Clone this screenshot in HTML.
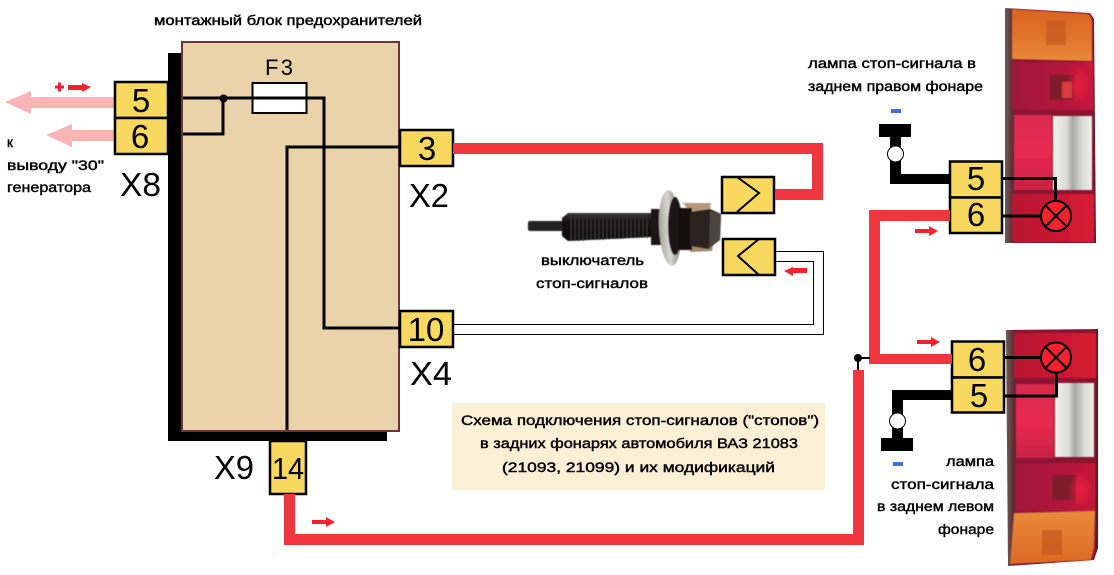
<!DOCTYPE html>
<html><head><meta charset="utf-8"><style>
html,body{margin:0;padding:0;background:#fff}
svg{display:block}
.t{font-family:"Liberation Sans",sans-serif;font-size:13.5px;fill:#000;stroke:#000;stroke-width:.4px}
.n{font-family:"Liberation Sans",sans-serif;font-size:33px;fill:#000;text-anchor:middle}
.x{font-family:"Liberation Sans",sans-serif;font-size:33px;fill:#000}
</style></head><body>
<svg width="1114" height="575" viewBox="0 0 1114 575" xmlns="http://www.w3.org/2000/svg">
<defs>
<linearGradient id="or" x1="0" y1="0" x2="0" y2="1"><stop offset="0" stop-color="#d9641f"/><stop offset=".6" stop-color="#e2772f"/><stop offset="1" stop-color="#e88a3a"/></linearGradient>
<linearGradient id="or2" x1="0" y1="0" x2="0" y2="1"><stop offset="0" stop-color="#ea8a3c"/><stop offset="1" stop-color="#dc6a25"/></linearGradient>
<linearGradient id="edge" x1="0" y1="0" x2="1" y2="0"><stop offset="0" stop-color="#6d5a58"/><stop offset=".09" stop-color="#5d2a30"/><stop offset=".12" stop-color="#8c1430"/><stop offset=".97" stop-color="#8c1430"/><stop offset="1" stop-color="#3a2020"/></linearGradient>
<linearGradient id="r1" x1="0" y1="0" x2="1" y2="0"><stop offset="0" stop-color="#a0153a"/><stop offset=".75" stop-color="#b8163a"/><stop offset="1" stop-color="#c81a3a"/></linearGradient>
<linearGradient id="r2" x1="0" y1="0" x2="0" y2="1"><stop offset="0" stop-color="#d92a4e"/><stop offset=".5" stop-color="#e82a50"/><stop offset="1" stop-color="#c92245"/></linearGradient>
<linearGradient id="r3" x1="0" y1="0" x2="1" y2="0"><stop offset="0" stop-color="#b81430"/><stop offset="1" stop-color="#d81c34"/></linearGradient>
<linearGradient id="wh" x1="0" y1="0" x2="1" y2="0"><stop offset="0" stop-color="#f0f0ec"/><stop offset=".35" stop-color="#dedeD8"/><stop offset=".5" stop-color="#a8a8a2"/><stop offset=".75" stop-color="#dcdcd6"/><stop offset="1" stop-color="#eeeeea"/></linearGradient>
<linearGradient id="th" x1="0" y1="0" x2="0" y2="1"><stop offset="0" stop-color="#3a3436"/><stop offset=".3" stop-color="#151113"/><stop offset="1" stop-color="#0d0a0b"/></linearGradient>
<linearGradient id="ring" x1="0" y1="0" x2="1" y2="0"><stop offset="0" stop-color="#a5a59d"/><stop offset=".45" stop-color="#d8d8d0"/><stop offset="1" stop-color="#77776f"/></linearGradient>
<radialGradient id="glow"><stop offset="0" stop-color="#f02040" stop-opacity=".9"/><stop offset="1" stop-color="#f02040" stop-opacity="0"/></radialGradient>
<filter id="b"><feGaussianBlur stdDeviation="1.2"/></filter>
<filter id="s"><feGaussianBlur stdDeviation=".5"/></filter>
</defs>

<!-- tail light top -->
<path d="M1005 8 L1090 13 L1094 19 L1096 243 L1005 243 Z" fill="url(#edge)"/>
<g filter="url(#s)">
<path d="M1012 9 L1089 14 L1092 20 L1092 61 L1012 59 Z" fill="url(#or)"/>
<rect x="1046" y="20" width="20" height="25" fill="#c8581f" opacity=".7"/>
<rect x="1012" y="62" width="81" height="48" fill="url(#r1)"/>
<rect x="1050" y="75" width="24" height="25" fill="#7e1a2a"/>
<ellipse cx="1078" cy="85" rx="12" ry="20" fill="url(#glow)"/>
<rect x="1062" y="82" width="10" height="16" fill="#d83a3a"/>
<rect x="1014" y="115" width="38" height="75" fill="url(#r2)"/>
<rect x="1053" y="116" width="39" height="74" fill="url(#wh)"/>
<rect x="1012" y="194" width="82" height="48" fill="url(#r3)"/>
</g>

<!-- tail light bottom -->
<path d="M1006 330 L1098 329 L1098 548 L1094 560 L1008 566 Z" fill="url(#edge)"/>
<g filter="url(#s)">
<rect x="1014" y="333" width="82" height="45" fill="url(#r3)"/>
<rect x="1016" y="384" width="38" height="74" fill="url(#r2)"/>
<rect x="1055" y="383" width="39" height="74" fill="url(#wh)"/>
<rect x="1015" y="463" width="80" height="48" fill="url(#r1)"/>
<rect x="1052" y="475" width="24" height="25" fill="#7e1a2a"/>
<ellipse cx="1080" cy="490" rx="12" ry="20" fill="url(#glow)"/>
<path d="M1014 513 L1095 511 L1094 548 L1091 560 L1010 564 Z" fill="url(#or2)"/>
<rect x="1042" y="530" width="20" height="25" fill="#c8581f" opacity=".7"/>
</g>

<!-- block -->
<rect x="168" y="53" width="219" height="388" fill="#000"/>
<rect x="182" y="42" width="217" height="389" fill="#ead3a8" stroke="#6b3535" stroke-width="2"/>

<!-- pink arrows -->
<path d="M5 102 L31 91 V97 H115 V108 H31 V114 Z" fill="#fbb4b4"/>
<path d="M46 135 L72 124 V130 H115 V141 H72 V147 Z" fill="#fbb4b4"/>
<rect x="55" y="85.500" width="9" height="3" fill="#f5222d"/><rect x="58" y="82.500" width="3" height="9" fill="#f5222d"/>
<path d="M68 85 H82 V83 L91 87 L82 92 V90 H68 Z" fill="#f5222d"/>

<!-- internal wiring -->
<g fill="none" stroke="#000" stroke-width="3">
<path d="M183 98 H324 V328 H400"/>
<path d="M223 98 V134 H183"/>
<path d="M400 147 H287 V430"/>
</g>
<circle cx="223.500" cy="98.500" r="4" fill="#000"/>
<rect x="252.500" y="83" width="54" height="30" fill="#fff" stroke="#000" stroke-width="2"/>
<path d="M252 98 H307" stroke="#000" stroke-width="3"/>
<text class="x" x="265" y="75" style="font-size:22px" textLength="28">F3</text>

<!-- connectors -->
<g fill="#f8d85f" stroke="#000" stroke-width="2.500">
<rect x="115" y="82" width="53" height="36"/>
<rect x="115" y="118" width="53" height="36"/>
<rect x="400" y="130" width="53" height="36"/>
<rect x="400" y="311" width="53" height="36"/>
<rect x="270" y="441" width="36" height="53"/>
<rect x="722" y="177" width="52" height="36"/>
<rect x="723" y="239" width="52" height="36"/>
<rect x="950" y="161.500" width="52" height="36"/>
<rect x="950" y="197.500" width="52" height="35.500"/>
<rect x="952" y="341.500" width="52" height="36"/>
<rect x="952" y="377.500" width="52" height="35"/>
</g>
<path d="M737 177 L759 193 L737 212" fill="none" stroke="#000" stroke-width="2"/>
<path d="M759 239 L738 256 L759 275" fill="none" stroke="#000" stroke-width="2"/>
<text class="n" x="141" y="112">5</text>
<text class="n" x="140" y="148">6</text>
<text class="n" x="427" y="160">3</text>
<text class="n" x="426" y="341">10</text>
<text class="n" x="288" y="479" style="font-size:31px" textLength="32" lengthAdjust="spacingAndGlyphs">14</text>
<text class="n" x="976" y="190">5</text>
<text class="n" x="976" y="226">6</text>
<text class="n" x="977" y="371">6</text>
<text class="n" x="979" y="407">5</text>
<text class="x" x="120" y="196" textLength="41" lengthAdjust="spacingAndGlyphs">X8</text>
<text class="x" x="409" y="207" textLength="40" lengthAdjust="spacingAndGlyphs">X2</text>
<text class="x" x="410" y="385" textLength="42" lengthAdjust="spacingAndGlyphs">X4</text>
<text class="x" x="214" y="479" textLength="40" lengthAdjust="spacingAndGlyphs">X9</text>

<!-- red wires -->
<g fill="#f2363f">
<path d="M453 143 H823 V200 H775 V189 H812 V154 H453 Z"/>
<path d="M284 494 H295 V534 H853 V370 H864 V545 H284 Z"/>
<path d="M869 210 H950 V221 H880 V354 H952 V364 H869 Z"/>
</g>
<!-- thin wires -->
<g fill="none" stroke="#000" stroke-width="1">
<path d="M775 251.500 H823.500 V334.500 H453"/>
<path d="M775 261.500 H813.500 V324.500 H453"/>
</g>
<path d="M858 370 V358 H870" fill="none" stroke="#000" stroke-width="2"/>
<circle cx="858" cy="358" r="4" fill="#000"/>

<!-- small arrows -->
<g fill="#f5222d">
<path d="M807 268 V273 H793 V276 L784 271 L793 267 V268 Z"/>
<path d="M915 229 H929 V226 L938 231 L929 236 V233 H915 Z"/>
<path d="M917 340 H931 V337 L940 342 L931 347 V344 H917 Z"/>
<path d="M312 520 H326 V517 L335 522 L326 527 V524 H312 Z"/>
</g>

<!-- grounds -->
<g fill="#000">
<rect x="879" y="124" width="32" height="13"/>
<path d="M890 137 H901 V174 H950 V184 H890 Z"/>
<rect x="881" y="438" width="32" height="13"/>
<path d="M892 390 H952 V400 H903 V438 H892 Z"/>
</g>
<circle cx="895.500" cy="154" r="8" fill="#fff" stroke="#000"/>
<circle cx="897.500" cy="421" r="8" fill="#fff" stroke="#000"/>
<rect x="891" y="109" width="10" height="4" fill="#4169e1"/>
<rect x="893" y="462" width="10" height="4" fill="#4169e1"/>

<!-- lamps -->
<g fill="none" stroke="#000" stroke-width="3">
<path d="M1002 178.500 H1055.500 V201"/>
<path d="M1002 216 H1041"/>
<path d="M1004 357.500 H1041"/>
<path d="M1004 396 H1056.500 V372"/>
</g>
<g stroke="#000" stroke-width="2">
<circle cx="1056" cy="216" r="15" fill="#f5222d"/>
<path d="M1045.500 205.500 L1066.500 226.500 M1066.500 205.500 L1045.500 226.500"/>
<circle cx="1056" cy="357.500" r="15" fill="#f5222d"/>
<path d="M1045.500 347 L1066.500 368 M1066.500 347 L1045.500 368"/>
</g>

<!-- switch -->
<g filter="url(#s)">
<rect x="528" y="221" width="36" height="10" rx="2" fill="#222"/>
<path d="M562 218 L568 213 H652 V237 L568 241 L562 236 Z" fill="url(#th)"/>
<path d="M571 213V241M575 213V241M579 213V241M583 213V241M587 213V240M591 213V240M595 213V240M599 213V240M603 213V240M607 213V239M611 213V239M615 213V239M619 213V239M623 213V239M627 213V238M631 213V238M635 213V238M639 213V238M643 213V238M647 213V238" stroke="#3b3537" stroke-width="1.200"/>
<rect x="651" y="209" width="11" height="36" fill="#1c1617"/>
<ellipse cx="670" cy="228" rx="11" ry="38" fill="url(#ring)" transform="rotate(-3 670 228)"/>
<ellipse cx="675" cy="226" rx="7" ry="29" fill="#1a1412"/>
<path d="M683 203 H711 L710 210 L690 212 Z" fill="#b6997d"/>
<path d="M690 245 H713 L712 251 L690 252 Z" fill="#a5866a"/>
<rect x="678" y="208" width="14" height="42" fill="#17110f"/>
<path d="M690 212 L710 209 L721 214 L720 240 L708 249 L690 246 Z" fill="#2a201c"/>
<path d="M710 211 L721 214 L720 240 L709 247 Z" fill="#4c443e"/>
</g>

<!-- cream box -->
<rect x="452" y="403" width="373" height="87" fill="#fbefd5"/>

<!-- text -->
<text class="t" x="154" y="25" textLength="268" lengthAdjust="spacingAndGlyphs">монтажный блок предохранителей</text>
<text class="t" x="7" y="147">к</text>
<text class="t" x="7" y="170" textLength="97" lengthAdjust="spacingAndGlyphs">выводу "30"</text>
<text class="t" x="7" y="192" textLength="84" lengthAdjust="spacingAndGlyphs">генератора</text>
<text class="t" x="541" y="265" textLength="103" lengthAdjust="spacingAndGlyphs">выключатель</text>
<text class="t" x="536" y="288" textLength="112" lengthAdjust="spacingAndGlyphs">стоп-сигналов</text>
<text class="t" x="808" y="68" textLength="168" lengthAdjust="spacingAndGlyphs">лампа стоп-сигнала в</text>
<text class="t" x="808" y="91" textLength="175" lengthAdjust="spacingAndGlyphs">заднем правом фонаре</text>
<text class="t" x="946" y="466" textLength="48" lengthAdjust="spacingAndGlyphs">лампа</text>
<text class="t" x="891" y="489" textLength="103" lengthAdjust="spacingAndGlyphs">стоп-сигнала</text>
<text class="t" x="877" y="511" textLength="117" lengthAdjust="spacingAndGlyphs">в заднем левом</text>
<text class="t" x="938" y="534" textLength="56" lengthAdjust="spacingAndGlyphs">фонаре</text>
<text class="t" x="461" y="425" textLength="358" lengthAdjust="spacingAndGlyphs">Схема подключения стоп-сигналов ("стопов")</text>
<text class="t" x="480" y="448" textLength="318" lengthAdjust="spacingAndGlyphs">в задних фонарях автомобиля ВАЗ 21083</text>
<text class="t" x="502" y="472" textLength="273" lengthAdjust="spacingAndGlyphs">(21093, 21099) и их модификаций</text>
</svg>
</body></html>
